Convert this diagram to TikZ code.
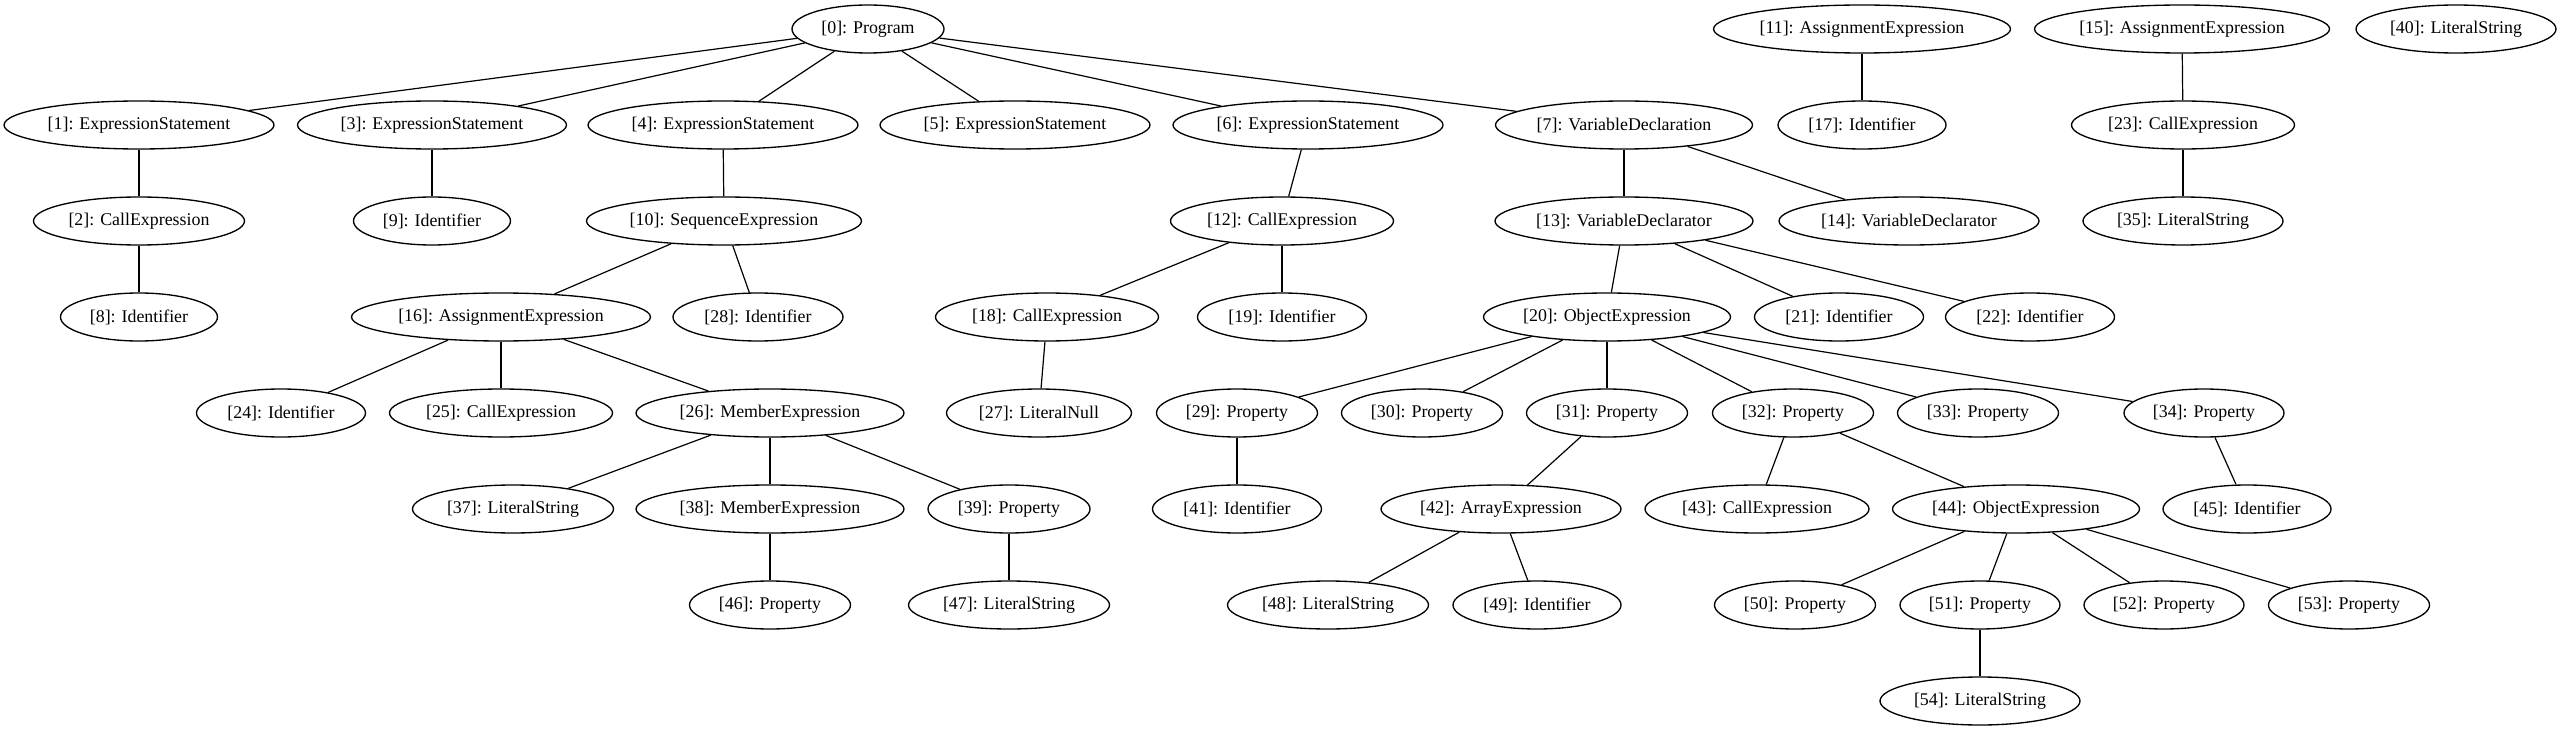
\documentclass[tikz,border=0pt]{standalone}
\usepackage{fontspec}
\setmainfont{Liberation Serif}
\usetikzlibrary{shapes.geometric}
\tikzset{
  e/.style={draw=black, line width=1pt, ellipse, inner sep=0pt, minimum height=36pt,
    font=\fontsize{13.4}{16}\selectfont, text=black},
  w/.style={minimum width=#1*0.75pt},
  edge/.style={draw=black, line width=0.9pt}
}
\begin{document}
\begin{tikzpicture}[x=0.75pt,y=-0.75pt]
\fill[white] (0,0) rectangle (2564,731);
\useasboundingbox (0,0) rectangle (2564,731);
% row 1
\node[e,w=152] (n0) at (868,29) {[0]: Program};
\node[e,w=297] (n11) at (1862,29) {[11]: AssignmentExpression};
\node[e,w=295] (n15) at (2182,29) {[15]: AssignmentExpression};
\node[e,w=200] (n40) at (2456,29) {[40]: LiteralString};
% row 2
\node[e,w=270] (n1) at (139,125) {[1]: ExpressionStatement};
\node[e,w=269] (n3) at (432,125) {[3]: ExpressionStatement};
\node[e,w=270] (n4) at (723,125) {[4]: ExpressionStatement};
\node[e,w=270] (n5) at (1015,125) {[5]: ExpressionStatement};
\node[e,w=270] (n6) at (1308,125) {[6]: ExpressionStatement};
\node[e,w=257] (n7) at (1624,125) {[7]: VariableDeclaration};
\node[e,w=168] (n17) at (1862,125) {[17]: Identifier};
\node[e,w=223] (n23) at (2183,125) {[23]: CallExpression};
% row 3
\node[e,w=211] (n2) at (139,221) {[2]: CallExpression};
\node[e,w=157] (n9) at (432,221) {[9]: Identifier};
\node[e,w=275] (n10) at (724,221) {[10]: SequenceExpression};
\node[e,w=223] (n12) at (1282,221) {[12]: CallExpression};
\node[e,w=258] (n13) at (1624,221) {[13]: VariableDeclarator};
\node[e,w=260] (n14) at (1909,221) {[14]: VariableDeclarator};
\node[e,w=200] (n35) at (2183,221) {[35]: LiteralString};
% row 4
\node[e,w=157] (n8) at (139,317) {[8]: Identifier};
\node[e,w=299] (n16) at (501,317) {[16]: AssignmentExpression};
\node[e,w=170] (n28) at (758,317) {[28]: Identifier};
\node[e,w=223] (n18) at (1047,317) {[18]: CallExpression};
\node[e,w=169] (n19) at (1282,317) {[19]: Identifier};
\node[e,w=247] (n20) at (1607,317) {[20]: ObjectExpression};
\node[e,w=169] (n21) at (1839,317) {[21]: Identifier};
\node[e,w=169] (n22) at (2030,317) {[22]: Identifier};
% row 5
\node[e,w=169] (n24) at (281,413) {[24]: Identifier};
\node[e,w=223] (n25) at (501,413) {[25]: CallExpression};
\node[e,w=268] (n26) at (770,413) {[26]: MemberExpression};
\node[e,w=185] (n27) at (1039,413) {[27]: LiteralNull};
\node[e,w=161] (n29) at (1237,413) {[29]: Property};
\node[e,w=161] (n30) at (1422,413) {[30]: Property};
\node[e,w=161] (n31) at (1607,413) {[31]: Property};
\node[e,w=161] (n32) at (1793,413) {[32]: Property};
\node[e,w=161] (n33) at (1978,413) {[33]: Property};
\node[e,w=160] (n34) at (2204,413) {[34]: Property};
% row 6
\node[e,w=201] (n37) at (513,509) {[37]: LiteralString};
\node[e,w=268] (n38) at (770,509) {[38]: MemberExpression};
\node[e,w=162] (n39) at (1009,509) {[39]: Property};
\node[e,w=169] (n41) at (1237,509) {[41]: Identifier};
\node[e,w=240] (n42) at (1501,509) {[42]: ArrayExpression};
\node[e,w=224] (n43) at (1757,509) {[43]: CallExpression};
\node[e,w=247] (n44) at (2016,509) {[44]: ObjectExpression};
\node[e,w=168] (n45) at (2247,509) {[45]: Identifier};
% row 7
\node[e,w=161] (n46) at (770,605) {[46]: Property};
\node[e,w=201] (n47) at (1009,605) {[47]: LiteralString};
\node[e,w=201] (n48) at (1328,605) {[48]: LiteralString};
\node[e,w=168] (n49) at (1537,605) {[49]: Identifier};
\node[e,w=161] (n50) at (1795,605) {[50]: Property};
\node[e,w=160] (n51) at (1980,605) {[51]: Property};
\node[e,w=160] (n52) at (2164,605) {[52]: Property};
\node[e,w=161] (n53) at (2349,605) {[53]: Property};
% row 8
\node[e,w=200] (n54) at (1980,701) {[54]: LiteralString};
% edges
\foreach \a/\b in {n0/n1,n0/n3,n0/n4,n0/n5,n0/n6,n0/n7,
  n1/n2,n2/n8,n3/n9,n4/n10,n10/n16,n10/n28,
  n16/n24,n16/n25,n16/n26,n26/n37,n26/n38,n26/n39,n38/n46,n39/n47,
  n6/n12,n12/n18,n12/n19,n18/n27,
  n7/n13,n7/n14,n13/n20,n13/n21,n13/n22,
  n20/n29,n20/n30,n20/n31,n20/n32,n20/n33,n20/n34,
  n29/n41,n31/n42,n42/n48,n42/n49,n32/n43,n32/n44,
  n44/n50,n44/n51,n44/n52,n44/n53,n51/n54,n34/n45,
  n11/n17,n15/n23,n23/n35}
  \draw[edge] (\a) -- (\b);
\end{tikzpicture}
\end{document}
